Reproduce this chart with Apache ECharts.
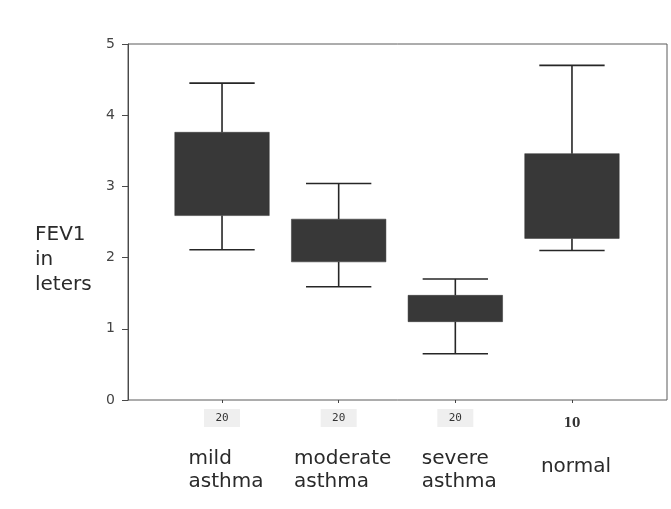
<!DOCTYPE html>
<html>
<head>
<meta charset="utf-8">
<script src="https://cdn.jsdelivr.net/npm/echarts@6/dist/echarts.min.js"></script>
<style>html,body{margin:0;padding:0;background:#fff;}#c{width:671px;height:509px;}</style>
</head>
<body>
<div id="c"></div>
<script>
// ---- data ----
const categories = ['mild\nasthma', 'moderate\nasthma', 'severe\nasthma', 'normal'];
const counts = ['20', '20', '20', '10'];
const whiskerLow = [2.11, 1.59, 0.65, 2.10];
const boxLow = [2.59, 1.94, 1.10, 2.27];
const boxHigh = [3.76, 2.54, 1.47, 3.46];
const whiskerHigh = [4.45, 3.04, 1.70, 4.70];
const yTicks = [0, 1, 2, 3, 4, 5];

const boxData = categories.map((c, i) => [i, whiskerLow[i], boxLow[i], boxHigh[i], whiskerHigh[i]]);

const chart = echarts.init(document.getElementById('c'), null, {renderer: 'canvas'});

const sansWide = '"DejaVu Sans", sans-serif';

const option = {
  backgroundColor: '#ffffff',
  animation: false,
  grid: [
    {left: 128, right: 4, top: 44, bottom: 109, show: true, borderColor: '#5a5a5a', borderWidth: 1, backgroundColor: 'transparent'},
    {left: 163.7, right: 40.7, top: 44, bottom: 109}
  ],
  xAxis: [
    {gridIndex: 0, type: 'value', show: false, min: 0, max: 1},
    {
      gridIndex: 1, type: 'category', data: categories,
      axisLine: {show: false},
      axisTick: {show: true, alignWithLabel: true, length: 3, lineStyle: {color: '#444'}},
      axisLabel: {
        interval: 0, margin: 9, lineHeight: 23,
        formatter: function (v, i) {
          const num = counts[i] === '10' ? '{m|' + counts[i] + '}' : '{n|' + counts[i] + '}';
          const lines = v.split('\n');
          if (lines.length === 1) {
            return num + '\n{sp2| }\n{c|' + lines[0] + '}';
          }
          return num + '\n{sp| }\n{c|' + lines[0] + '}\n{c|' + lines[1] + '}';
        },
        rich: {
          n: {fontFamily: '"DejaVu Sans Mono", monospace', fontSize: 11, color: '#333', backgroundColor: '#efefef', width: 36, height: 18, lineHeight: 18, align: 'center', verticalAlign: 'middle'},
          m: {fontFamily: '"DejaVu Serif", serif', fontWeight: 'bold', fontSize: 12, color: '#333', height: 18, lineHeight: 24, align: 'center', verticalAlign: 'bottom'},
          sp: {fontSize: 1, lineHeight: 20, height: 20},
          sp2: {fontSize: 1, lineHeight: 22, height: 22},
          c: {fontFamily: sansWide, fontSize: 20, color: '#2a2a2a', lineHeight: 23, height: 23, padding: [0, 0, 0, 8], align: 'left'}
        }
      }
    }
  ],
  yAxis: [
    {
      gridIndex: 0, type: 'value', min: 0, max: 5, interval: 1,
      axisLine: {show: true, lineStyle: {color: '#4a4a4a', width: 1}},
      axisTick: {show: true, length: 6, lineStyle: {color: '#4a4a4a'}},
      splitLine: {show: false},
      axisLabel: {margin: 13, fontFamily: sansWide, fontSize: 14, color: '#444',
        formatter: v => yTicks.includes(v) ? String(v) : ''},
      name: 'FEV1\nin\nleters',
      nameLocation: 'middle', nameRotate: 0, nameGap: 93,
      nameTextStyle: {fontFamily: sansWide, fontSize: 20, color: '#2a2a2a', lineHeight: 25, align: 'left', verticalAlign: 'top'}
    },
    {gridIndex: 1, type: 'value', min: 0, max: 5, show: false}
  ],
  series: [{
    type: 'custom',
    xAxisIndex: 1, yAxisIndex: 1,
    data: boxData,
    encode: {x: 0, y: [1, 2, 3, 4]},
    renderItem: function (params, api) {
      const idx = api.value(0);
      const pLo = api.coord([idx, api.value(1)]);
      const pQ1 = api.coord([idx, api.value(2)]);
      const pQ3 = api.coord([idx, api.value(3)]);
      const pHi = api.coord([idx, api.value(4)]);
      const band = api.size([1, 0])[0];
      const bw = band * 0.81;
      const cw = band * 0.56;
      const cx = pLo[0];
      const ls = {stroke: '#262626', lineWidth: 1.6};
      return {
        type: 'group',
        children: [
          {type: 'line', shape: {x1: cx, y1: pHi[1], x2: cx, y2: pQ3[1]}, style: ls},
          {type: 'line', shape: {x1: cx, y1: pQ1[1], x2: cx, y2: pLo[1]}, style: ls},
          {type: 'line', shape: {x1: cx - cw / 2, y1: pHi[1], x2: cx + cw / 2, y2: pHi[1]}, style: ls},
          {type: 'line', shape: {x1: cx - cw / 2, y1: pLo[1], x2: cx + cw / 2, y2: pLo[1]}, style: ls},
          {type: 'rect', shape: {x: cx - bw / 2, y: pQ3[1], width: bw, height: pQ1[1] - pQ3[1]}, style: {fill: '#383838', stroke: '#333', lineWidth: 0.5}}
        ]
      };
    }
  }]
};
chart.setOption(option);
</script>
</body>
</html>
